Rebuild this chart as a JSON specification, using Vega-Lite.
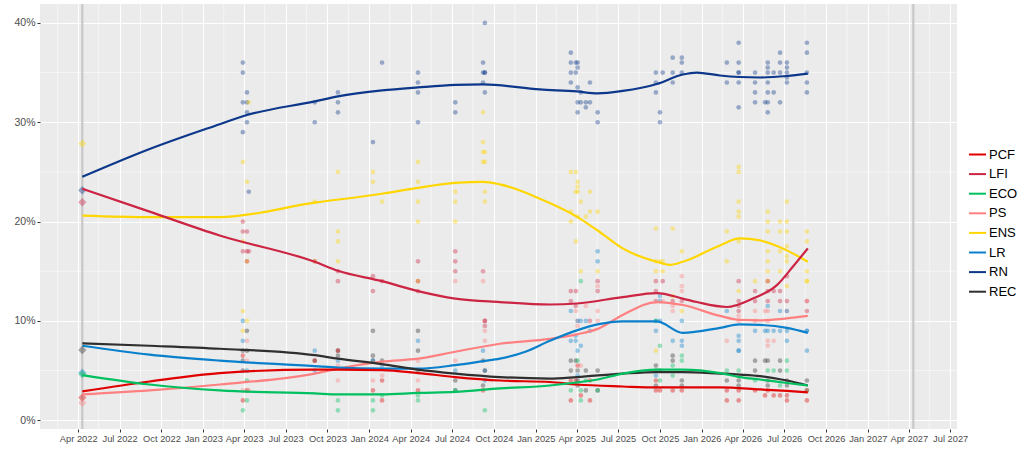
{
  "$schema": "https://vega.github.io/schema/vega-lite/v6.json",
  "width": 917,
  "height": 425,
  "autosize": {"type": "none"},
  "padding": {"left": 40, "top": 4, "right": 67, "bottom": 27},
  "config": {
    "font": "Liberation Sans",
    "view": {"fill": "#EBEBEB", "stroke": null},
    "axis": {
      "domain": false,
      "tickColor": "#333333",
      "tickSize": 3,
      "labelColor": "#4D4D4D",
      "labelFontSize": 10,
      "labelPadding": 2,
      "labelOverlap": false,
      "gridColor": "#FFFFFF",
      "gridWidth": 1.1
    }
  },
  "datasets": {
    "gridx": [
      {"d": "2022-02-15"}, {"d": "2022-05-16"}, {"d": "2022-08-16"}, {"d": "2022-11-16"},
      {"d": "2023-02-15"}, {"d": "2023-05-16"}, {"d": "2023-08-16"}, {"d": "2023-11-16"},
      {"d": "2024-02-15"}, {"d": "2024-05-16"}, {"d": "2024-08-16"}, {"d": "2024-11-16"},
      {"d": "2025-02-15"}, {"d": "2025-05-16"}, {"d": "2025-08-16"}, {"d": "2025-11-16"},
      {"d": "2026-02-15"}, {"d": "2026-05-16"}, {"d": "2026-08-16"}, {"d": "2026-11-16"},
      {"d": "2027-02-15"}, {"d": "2027-05-16"}
    ],
    "gridy": [{"v": 5}, {"v": 15}, {"v": 25}, {"v": 35}],
    "elections": [{"d": "2022-04-10"}, {"d": "2027-04-11"}],
    "results": [
      {"d": "2022-04-10", "p": "ENS", "v": 27.85},
      {"d": "2022-04-10", "p": "RN", "v": 23.15},
      {"d": "2022-04-10", "p": "LFI", "v": 21.95},
      {"d": "2022-04-10", "p": "REC", "v": 7.07},
      {"d": "2022-04-10", "p": "LR", "v": 4.78},
      {"d": "2022-04-10", "p": "ECO", "v": 4.63},
      {"d": "2022-04-10", "p": "PCF", "v": 2.28},
      {"d": "2022-04-10", "p": "PS", "v": 1.75}
    ],
    "polls": [
      {"d": "2023-03-29", "p": "RN", "v": 36}, {"d": "2023-03-29", "p": "RN", "v": 35}, {"d": "2023-03-29", "p": "RN", "v": 32}, {"d": "2023-03-29", "p": "RN", "v": 29},
      {"d": "2023-03-29", "p": "ENS", "v": 26}, {"d": "2023-03-29", "p": "ENS", "v": 18}, {"d": "2023-03-29", "p": "ENS", "v": 11}, {"d": "2023-03-29", "p": "ENS", "v": 9},
      {"d": "2023-03-29", "p": "LFI", "v": 20}, {"d": "2023-03-29", "p": "LFI", "v": 19}, {"d": "2023-03-29", "p": "LFI", "v": 17},
      {"d": "2023-03-29", "p": "LR", "v": 10}, {"d": "2023-03-29", "p": "LR", "v": 8},
      {"d": "2023-03-29", "p": "REC", "v": 7}, {"d": "2023-03-29", "p": "REC", "v": 6}, {"d": "2023-03-29", "p": "REC", "v": 5},
      {"d": "2023-03-29", "p": "PCF", "v": 6.5}, {"d": "2023-03-29", "p": "PCF", "v": 2},
      {"d": "2023-03-29", "p": "PS", "v": 3}, {"d": "2023-03-29", "p": "ECO", "v": 1},

      {"d": "2023-04-07", "p": "RN", "v": 33}, {"d": "2023-04-07", "p": "RN", "v": 32}, {"d": "2023-04-07", "p": "RN", "v": 31}, {"d": "2023-04-07", "p": "RN", "v": 30},
      {"d": "2023-04-07", "p": "ENS", "v": 24}, {"d": "2023-04-07", "p": "ENS", "v": 16}, {"d": "2023-04-07", "p": "ENS", "v": 10},
      {"d": "2023-04-07", "p": "LFI", "v": 19}, {"d": "2023-04-07", "p": "LFI", "v": 17}, {"d": "2023-04-07", "p": "LFI", "v": 16},
      {"d": "2023-04-07", "p": "REC", "v": 9}, {"d": "2023-04-07", "p": "REC", "v": 7},
      {"d": "2023-04-07", "p": "PS", "v": 8}, {"d": "2023-04-07", "p": "PS", "v": 6},
      {"d": "2023-04-07", "p": "LR", "v": 5}, {"d": "2023-04-07", "p": "ECO", "v": 4}, {"d": "2023-04-07", "p": "ECO", "v": 2}, {"d": "2023-04-07", "p": "PCF", "v": 3},

      {"d": "2023-04-11", "p": "ENS", "v": 32}, {"d": "2023-04-11", "p": "RN", "v": 23}, {"d": "2023-04-11", "p": "LFI", "v": 17}, {"d": "2023-04-11", "p": "PS", "v": 3},

      {"d": "2023-09-03", "p": "RN", "v": 32}, {"d": "2023-09-03", "p": "RN", "v": 30},
      {"d": "2023-09-03", "p": "ENS", "v": 22}, {"d": "2023-09-03", "p": "ENS", "v": 16},
      {"d": "2023-09-03", "p": "LFI", "v": 16}, {"d": "2023-09-03", "p": "LR", "v": 7}, {"d": "2023-09-03", "p": "LR", "v": 5},
      {"d": "2023-09-03", "p": "REC", "v": 6}, {"d": "2023-09-03", "p": "PCF", "v": 6},

      {"d": "2023-10-24", "p": "RN", "v": 33}, {"d": "2023-10-24", "p": "RN", "v": 32}, {"d": "2023-10-24", "p": "RN", "v": 31},
      {"d": "2023-10-24", "p": "ENS", "v": 25}, {"d": "2023-10-24", "p": "ENS", "v": 19}, {"d": "2023-10-24", "p": "ENS", "v": 18}, {"d": "2023-10-24", "p": "ENS", "v": 16},
      {"d": "2023-10-24", "p": "LFI", "v": 15}, {"d": "2023-10-24", "p": "LFI", "v": 14},
      {"d": "2023-10-24", "p": "REC", "v": 7}, {"d": "2023-10-24", "p": "REC", "v": 6.5}, {"d": "2023-10-24", "p": "PCF", "v": 7},
      {"d": "2023-10-24", "p": "LR", "v": 6}, {"d": "2023-10-24", "p": "PS", "v": 5.5}, {"d": "2023-10-24", "p": "PS", "v": 4},
      {"d": "2023-10-24", "p": "ECO", "v": 2}, {"d": "2023-10-24", "p": "ECO", "v": 1},

      {"d": "2024-01-09", "p": "RN", "v": 28}, {"d": "2024-01-09", "p": "ENS", "v": 25}, {"d": "2024-01-09", "p": "ENS", "v": 24},
      {"d": "2024-01-09", "p": "LFI", "v": 14.5}, {"d": "2024-01-09", "p": "LFI", "v": 13},
      {"d": "2024-01-09", "p": "REC", "v": 9}, {"d": "2024-01-09", "p": "REC", "v": 6.5}, {"d": "2024-01-09", "p": "REC", "v": 6},
      {"d": "2024-01-09", "p": "LR", "v": 6}, {"d": "2024-01-09", "p": "PS", "v": 4}, {"d": "2024-01-09", "p": "PCF", "v": 3},
      {"d": "2024-01-09", "p": "ECO", "v": 2}, {"d": "2024-01-09", "p": "ECO", "v": 1},

      {"d": "2024-01-29", "p": "RN", "v": 36}, {"d": "2024-01-29", "p": "ENS", "v": 22}, {"d": "2024-01-29", "p": "LFI", "v": 14},
      {"d": "2024-01-29", "p": "REC", "v": 6}, {"d": "2024-01-29", "p": "LR", "v": 5.5}, {"d": "2024-01-29", "p": "PS", "v": 4.5},
      {"d": "2024-01-29", "p": "PCF", "v": 4}, {"d": "2024-01-29", "p": "PCF", "v": 2}, {"d": "2024-01-29", "p": "ECO", "v": 2.5},

      {"d": "2024-04-17", "p": "RN", "v": 35}, {"d": "2024-04-17", "p": "RN", "v": 34}, {"d": "2024-04-17", "p": "RN", "v": 33}, {"d": "2024-04-17", "p": "RN", "v": 30},
      {"d": "2024-04-17", "p": "ENS", "v": 26}, {"d": "2024-04-17", "p": "ENS", "v": 24}, {"d": "2024-04-17", "p": "ENS", "v": 22}, {"d": "2024-04-17", "p": "ENS", "v": 20}, {"d": "2024-04-17", "p": "ENS", "v": 14},
      {"d": "2024-04-17", "p": "LFI", "v": 16}, {"d": "2024-04-17", "p": "LFI", "v": 14}, {"d": "2024-04-17", "p": "LFI", "v": 13},
      {"d": "2024-04-17", "p": "REC", "v": 9}, {"d": "2024-04-17", "p": "REC", "v": 7}, {"d": "2024-04-17", "p": "REC", "v": 5},
      {"d": "2024-04-17", "p": "LR", "v": 8}, {"d": "2024-04-17", "p": "PS", "v": 6}, {"d": "2024-04-17", "p": "PS", "v": 4},
      {"d": "2024-04-17", "p": "PCF", "v": 3}, {"d": "2024-04-17", "p": "ECO", "v": 2.5}, {"d": "2024-04-17", "p": "ECO", "v": 2},

      {"d": "2024-07-08", "p": "RN", "v": 32}, {"d": "2024-07-08", "p": "RN", "v": 31},
      {"d": "2024-07-08", "p": "ENS", "v": 23}, {"d": "2024-07-08", "p": "ENS", "v": 22}, {"d": "2024-07-08", "p": "ENS", "v": 20},
      {"d": "2024-07-08", "p": "LFI", "v": 17}, {"d": "2024-07-08", "p": "LFI", "v": 16}, {"d": "2024-07-08", "p": "LFI", "v": 15},
      {"d": "2024-07-08", "p": "PS", "v": 14}, {"d": "2024-07-08", "p": "PS", "v": 6}, {"d": "2024-07-08", "p": "LR", "v": 5},
      {"d": "2024-07-08", "p": "REC", "v": 4}, {"d": "2024-07-08", "p": "REC", "v": 3}, {"d": "2024-07-08", "p": "ECO", "v": 3},

      {"d": "2024-09-07", "p": "RN", "v": 36}, {"d": "2024-09-07", "p": "RN", "v": 35}, {"d": "2024-09-07", "p": "RN", "v": 34},
      {"d": "2024-09-07", "p": "ENS", "v": 31}, {"d": "2024-09-07", "p": "ENS", "v": 28}, {"d": "2024-09-07", "p": "ENS", "v": 27}, {"d": "2024-09-07", "p": "ENS", "v": 26},
      {"d": "2024-09-07", "p": "LFI", "v": 15}, {"d": "2024-09-07", "p": "PS", "v": 14}, {"d": "2024-09-07", "p": "LR", "v": 7},
      {"d": "2024-09-07", "p": "REC", "v": 6}, {"d": "2024-09-07", "p": "REC", "v": 3.5}, {"d": "2024-09-07", "p": "PCF", "v": 3},

      {"d": "2024-09-11", "p": "RN", "v": 40}, {"d": "2024-09-11", "p": "RN", "v": 35}, {"d": "2024-09-11", "p": "RN", "v": 35}, {"d": "2024-09-11", "p": "RN", "v": 33},
      {"d": "2024-09-11", "p": "ENS", "v": 27}, {"d": "2024-09-11", "p": "ENS", "v": 26}, {"d": "2024-09-11", "p": "ENS", "v": 23}, {"d": "2024-09-11", "p": "ENS", "v": 22},
      {"d": "2024-09-11", "p": "LFI", "v": 10}, {"d": "2024-09-11", "p": "LFI", "v": 10}, {"d": "2024-09-11", "p": "LFI", "v": 9.5},
      {"d": "2024-09-11", "p": "PS", "v": 9}, {"d": "2024-09-11", "p": "PS", "v": 8},
      {"d": "2024-09-11", "p": "LR", "v": 5}, {"d": "2024-09-11", "p": "LR", "v": 4}, {"d": "2024-09-11", "p": "REC", "v": 5}, {"d": "2024-09-11", "p": "ECO", "v": 1},

      {"d": "2025-03-19", "p": "RN", "v": 37}, {"d": "2025-03-19", "p": "RN", "v": 36}, {"d": "2025-03-19", "p": "RN", "v": 35}, {"d": "2025-03-19", "p": "RN", "v": 34},
      {"d": "2025-03-19", "p": "ENS", "v": 25}, {"d": "2025-03-19", "p": "ENS", "v": 21}, {"d": "2025-03-19", "p": "ENS", "v": 20},
      {"d": "2025-03-19", "p": "LFI", "v": 13}, {"d": "2025-03-19", "p": "LFI", "v": 12},
      {"d": "2025-03-19", "p": "LR", "v": 11}, {"d": "2025-03-19", "p": "LR", "v": 8},
      {"d": "2025-03-19", "p": "REC", "v": 6}, {"d": "2025-03-19", "p": "REC", "v": 5},
      {"d": "2025-03-19", "p": "PCF", "v": 4}, {"d": "2025-03-19", "p": "PCF", "v": 2}, {"d": "2025-03-19", "p": "ECO", "v": 3},

      {"d": "2025-03-30", "p": "RN", "v": 36}, {"d": "2025-03-30", "p": "RN", "v": 35},
      {"d": "2025-03-30", "p": "ENS", "v": 25}, {"d": "2025-03-30", "p": "ENS", "v": 23}, {"d": "2025-03-30", "p": "ENS", "v": 18},
      {"d": "2025-03-30", "p": "LFI", "v": 13}, {"d": "2025-03-30", "p": "LFI", "v": 11.5}, {"d": "2025-03-30", "p": "PS", "v": 11},
      {"d": "2025-03-30", "p": "LR", "v": 8.5}, {"d": "2025-03-30", "p": "LR", "v": 8}, {"d": "2025-03-30", "p": "REC", "v": 6}, {"d": "2025-03-30", "p": "PCF", "v": 4},

      {"d": "2025-04-03", "p": "RN", "v": 36}, {"d": "2025-04-03", "p": "RN", "v": 35.5}, {"d": "2025-04-03", "p": "RN", "v": 33.5}, {"d": "2025-04-03", "p": "RN", "v": 32}, {"d": "2025-04-03", "p": "RN", "v": 31},
      {"d": "2025-04-03", "p": "ENS", "v": 24}, {"d": "2025-04-03", "p": "ENS", "v": 23.5}, {"d": "2025-04-03", "p": "ENS", "v": 23}, {"d": "2025-04-03", "p": "ENS", "v": 20.5},
      {"d": "2025-04-03", "p": "PS", "v": 10}, {"d": "2025-04-03", "p": "PS", "v": 9.5},
      {"d": "2025-04-03", "p": "LR", "v": 10}, {"d": "2025-04-03", "p": "LR", "v": 7}, {"d": "2025-04-03", "p": "LR", "v": 4.5},
      {"d": "2025-04-03", "p": "ECO", "v": 6}, {"d": "2025-04-03", "p": "PCF", "v": 5.5},
      {"d": "2025-04-03", "p": "REC", "v": 5}, {"d": "2025-04-03", "p": "REC", "v": 4}, {"d": "2025-04-03", "p": "REC", "v": 3.5},

      {"d": "2025-04-10", "p": "RN", "v": 33}, {"d": "2025-04-10", "p": "RN", "v": 32},
      {"d": "2025-04-10", "p": "ENS", "v": 22}, {"d": "2025-04-10", "p": "ENS", "v": 15},
      {"d": "2025-04-10", "p": "LR", "v": 10}, {"d": "2025-04-10", "p": "LR", "v": 7.5}, {"d": "2025-04-10", "p": "PS", "v": 5.5},
      {"d": "2025-04-10", "p": "ECO", "v": 14}, {"d": "2025-04-10", "p": "ECO", "v": 3}, {"d": "2025-04-10", "p": "ECO", "v": 2}, {"d": "2025-04-10", "p": "PCF", "v": 2.5},

      {"d": "2025-04-21", "p": "RN", "v": 32}, {"d": "2025-04-21", "p": "RN", "v": 31.5}, {"d": "2025-04-21", "p": "ENS", "v": 20.5},
      {"d": "2025-04-21", "p": "PS", "v": 11.5}, {"d": "2025-04-21", "p": "LR", "v": 10},
      {"d": "2025-04-21", "p": "REC", "v": 5}, {"d": "2025-04-21", "p": "REC", "v": 3}, {"d": "2025-04-21", "p": "ECO", "v": 4},

      {"d": "2025-04-30", "p": "RN", "v": 34}, {"d": "2025-04-30", "p": "RN", "v": 32},
      {"d": "2025-04-30", "p": "ENS", "v": 23}, {"d": "2025-04-30", "p": "ENS", "v": 21},
      {"d": "2025-04-30", "p": "LFI", "v": 10}, {"d": "2025-04-30", "p": "LR", "v": 9},
      {"d": "2025-04-30", "p": "PCF", "v": 4}, {"d": "2025-04-30", "p": "PCF", "v": 2},

      {"d": "2025-05-17", "p": "RN", "v": 31}, {"d": "2025-05-17", "p": "RN", "v": 30},
      {"d": "2025-05-17", "p": "ENS", "v": 21}, {"d": "2025-05-17", "p": "ENS", "v": 15},
      {"d": "2025-05-17", "p": "LR", "v": 17}, {"d": "2025-05-17", "p": "LR", "v": 16},
      {"d": "2025-05-17", "p": "LFI", "v": 14}, {"d": "2025-05-17", "p": "LFI", "v": 13},
      {"d": "2025-05-17", "p": "PS", "v": 13.5}, {"d": "2025-05-17", "p": "PS", "v": 11}, {"d": "2025-05-17", "p": "PS", "v": 10},
      {"d": "2025-05-17", "p": "REC", "v": 5}, {"d": "2025-05-17", "p": "REC", "v": 3}, {"d": "2025-05-17", "p": "ECO", "v": 3},

      {"d": "2025-09-22", "p": "RN", "v": 35}, {"d": "2025-09-22", "p": "RN", "v": 34}, {"d": "2025-09-22", "p": "RN", "v": 33},
      {"d": "2025-09-22", "p": "ENS", "v": 19.3}, {"d": "2025-09-22", "p": "ENS", "v": 16}, {"d": "2025-09-22", "p": "ENS", "v": 15}, {"d": "2025-09-22", "p": "ENS", "v": 7},
      {"d": "2025-09-22", "p": "LFI", "v": 14}, {"d": "2025-09-22", "p": "LFI", "v": 13}, {"d": "2025-09-22", "p": "LFI", "v": 12},
      {"d": "2025-09-22", "p": "LR", "v": 10}, {"d": "2025-09-22", "p": "LR", "v": 9}, {"d": "2025-09-22", "p": "LR", "v": 4.5},
      {"d": "2025-09-22", "p": "ECO", "v": 10},
      {"d": "2025-09-22", "p": "REC", "v": 5.5}, {"d": "2025-09-22", "p": "REC", "v": 5}, {"d": "2025-09-22", "p": "REC", "v": 3.5},
      {"d": "2025-09-22", "p": "PCF", "v": 4}, {"d": "2025-09-22", "p": "PCF", "v": 3},

      {"d": "2025-10-01", "p": "RN", "v": 31}, {"d": "2025-10-01", "p": "RN", "v": 30}, {"d": "2025-10-01", "p": "ENS", "v": 16},
      {"d": "2025-10-01", "p": "LR", "v": 12.5}, {"d": "2025-10-01", "p": "LR", "v": 12}, {"d": "2025-10-01", "p": "LR", "v": 10},
      {"d": "2025-10-01", "p": "ECO", "v": 7.5}, {"d": "2025-10-01", "p": "ECO", "v": 4}, {"d": "2025-10-01", "p": "REC", "v": 5}, {"d": "2025-10-01", "p": "PCF", "v": 3},

      {"d": "2025-10-07", "p": "RN", "v": 35}, {"d": "2025-10-07", "p": "ENS", "v": 16}, {"d": "2025-10-07", "p": "ENS", "v": 15},
      {"d": "2025-10-07", "p": "LFI", "v": 14}, {"d": "2025-10-07", "p": "PS", "v": 12},

      {"d": "2025-10-29", "p": "RN", "v": 36.5}, {"d": "2025-10-29", "p": "RN", "v": 35}, {"d": "2025-10-29", "p": "RN", "v": 34},
      {"d": "2025-10-29", "p": "ENS", "v": 19.3}, {"d": "2025-10-29", "p": "ENS", "v": 12.5}, {"d": "2025-10-29", "p": "LFI", "v": 12},
      {"d": "2025-10-29", "p": "PS", "v": 11.5}, {"d": "2025-10-29", "p": "PS", "v": 11}, {"d": "2025-10-29", "p": "LR", "v": 8},
      {"d": "2025-10-29", "p": "REC", "v": 6.5}, {"d": "2025-10-29", "p": "REC", "v": 6},
      {"d": "2025-10-29", "p": "ECO", "v": 5.5}, {"d": "2025-10-29", "p": "ECO", "v": 4.5}, {"d": "2025-10-29", "p": "PCF", "v": 3},

      {"d": "2025-11-18", "p": "RN", "v": 36.5}, {"d": "2025-11-18", "p": "RN", "v": 36}, {"d": "2025-11-18", "p": "RN", "v": 35},
      {"d": "2025-11-18", "p": "ENS", "v": 17}, {"d": "2025-11-18", "p": "ENS", "v": 11},
      {"d": "2025-11-18", "p": "PS", "v": 14.5}, {"d": "2025-11-18", "p": "PS", "v": 13.5}, {"d": "2025-11-18", "p": "PS", "v": 13},
      {"d": "2025-11-18", "p": "LFI", "v": 12},
      {"d": "2025-11-18", "p": "LR", "v": 10}, {"d": "2025-11-18", "p": "LR", "v": 8}, {"d": "2025-11-18", "p": "LR", "v": 7.5},
      {"d": "2025-11-18", "p": "ECO", "v": 6.5}, {"d": "2025-11-18", "p": "ECO", "v": 6},
      {"d": "2025-11-18", "p": "REC", "v": 4}, {"d": "2025-11-18", "p": "REC", "v": 3.5}, {"d": "2025-11-18", "p": "PCF", "v": 3},

      {"d": "2026-02-25", "p": "RN", "v": 36}, {"d": "2026-02-25", "p": "RN", "v": 34},
      {"d": "2026-02-25", "p": "ENS", "v": 19}, {"d": "2026-02-25", "p": "ENS", "v": 16},
      {"d": "2026-02-25", "p": "LR", "v": 11}, {"d": "2026-02-25", "p": "PS", "v": 8}, {"d": "2026-02-25", "p": "ECO", "v": 5},
      {"d": "2026-02-25", "p": "REC", "v": 4}, {"d": "2026-02-25", "p": "PCF", "v": 3}, {"d": "2026-02-25", "p": "PCF", "v": 2},

      {"d": "2026-03-23", "p": "RN", "v": 38}, {"d": "2026-03-23", "p": "RN", "v": 36}, {"d": "2026-03-23", "p": "RN", "v": 35}, {"d": "2026-03-23", "p": "RN", "v": 35}, {"d": "2026-03-23", "p": "RN", "v": 34}, {"d": "2026-03-23", "p": "RN", "v": 31.5},
      {"d": "2026-03-23", "p": "ENS", "v": 25.5}, {"d": "2026-03-23", "p": "ENS", "v": 25}, {"d": "2026-03-23", "p": "ENS", "v": 22}, {"d": "2026-03-23", "p": "ENS", "v": 21}, {"d": "2026-03-23", "p": "ENS", "v": 20.5}, {"d": "2026-03-23", "p": "ENS", "v": 18}, {"d": "2026-03-23", "p": "ENS", "v": 13},
      {"d": "2026-03-23", "p": "LFI", "v": 14}, {"d": "2026-03-23", "p": "LFI", "v": 12}, {"d": "2026-03-23", "p": "LFI", "v": 11.5}, {"d": "2026-03-23", "p": "LFI", "v": 11},
      {"d": "2026-03-23", "p": "PS", "v": 10.5}, {"d": "2026-03-23", "p": "PS", "v": 10},
      {"d": "2026-03-23", "p": "LR", "v": 8.5}, {"d": "2026-03-23", "p": "LR", "v": 8}, {"d": "2026-03-23", "p": "LR", "v": 7}, {"d": "2026-03-23", "p": "LR", "v": 7},
      {"d": "2026-03-23", "p": "ECO", "v": 5}, {"d": "2026-03-23", "p": "REC", "v": 4}, {"d": "2026-03-23", "p": "REC", "v": 3.5},
      {"d": "2026-03-23", "p": "PCF", "v": 3}, {"d": "2026-03-23", "p": "PCF", "v": 2},

      {"d": "2026-04-28", "p": "RN", "v": 35}, {"d": "2026-04-28", "p": "RN", "v": 34}, {"d": "2026-04-28", "p": "RN", "v": 33}, {"d": "2026-04-28", "p": "RN", "v": 32},
      {"d": "2026-04-28", "p": "ENS", "v": 14}, {"d": "2026-04-28", "p": "LFI", "v": 13}, {"d": "2026-04-28", "p": "LFI", "v": 12},
      {"d": "2026-04-28", "p": "PS", "v": 11}, {"d": "2026-04-28", "p": "PS", "v": 10}, {"d": "2026-04-28", "p": "LR", "v": 9},
      {"d": "2026-04-28", "p": "REC", "v": 6}, {"d": "2026-04-28", "p": "REC", "v": 5}, {"d": "2026-04-28", "p": "ECO", "v": 4}, {"d": "2026-04-28", "p": "PCF", "v": 3},

      {"d": "2026-05-20", "p": "RN", "v": 32}, {"d": "2026-05-20", "p": "PS", "v": 11}, {"d": "2026-05-20", "p": "LR", "v": 9},
      {"d": "2026-05-20", "p": "REC", "v": 6}, {"d": "2026-05-20", "p": "PCF", "v": 2.5},

      {"d": "2026-05-26", "p": "RN", "v": 36}, {"d": "2026-05-26", "p": "RN", "v": 35.5}, {"d": "2026-05-26", "p": "RN", "v": 35}, {"d": "2026-05-26", "p": "RN", "v": 34}, {"d": "2026-05-26", "p": "RN", "v": 33}, {"d": "2026-05-26", "p": "RN", "v": 32}, {"d": "2026-05-26", "p": "RN", "v": 31},
      {"d": "2026-05-26", "p": "ENS", "v": 21}, {"d": "2026-05-26", "p": "ENS", "v": 20}, {"d": "2026-05-26", "p": "ENS", "v": 19}, {"d": "2026-05-26", "p": "ENS", "v": 17}, {"d": "2026-05-26", "p": "ENS", "v": 16}, {"d": "2026-05-26", "p": "ENS", "v": 15}, {"d": "2026-05-26", "p": "ENS", "v": 14},
      {"d": "2026-05-26", "p": "LFI", "v": 14}, {"d": "2026-05-26", "p": "LFI", "v": 13}, {"d": "2026-05-26", "p": "LFI", "v": 12},
      {"d": "2026-05-26", "p": "LR", "v": 11.5}, {"d": "2026-05-26", "p": "LR", "v": 9},
      {"d": "2026-05-26", "p": "PS", "v": 11}, {"d": "2026-05-26", "p": "PS", "v": 10}, {"d": "2026-05-26", "p": "PS", "v": 8}, {"d": "2026-05-26", "p": "PS", "v": 7.5},
      {"d": "2026-05-26", "p": "REC", "v": 6}, {"d": "2026-05-26", "p": "REC", "v": 4}, {"d": "2026-05-26", "p": "REC", "v": 3.5},
      {"d": "2026-05-26", "p": "ECO", "v": 5}, {"d": "2026-05-26", "p": "PCF", "v": 3},

      {"d": "2026-06-08", "p": "RN", "v": 35}, {"d": "2026-06-08", "p": "RN", "v": 33}, {"d": "2026-06-08", "p": "LFI", "v": 13},
      {"d": "2026-06-08", "p": "LR", "v": 9}, {"d": "2026-06-08", "p": "PS", "v": 8}, {"d": "2026-06-08", "p": "ECO", "v": 5}, {"d": "2026-06-08", "p": "PCF", "v": 2.5},

      {"d": "2026-06-22", "p": "RN", "v": 37}, {"d": "2026-06-22", "p": "RN", "v": 36}, {"d": "2026-06-22", "p": "RN", "v": 35}, {"d": "2026-06-22", "p": "RN", "v": 32},
      {"d": "2026-06-22", "p": "ENS", "v": 20}, {"d": "2026-06-22", "p": "ENS", "v": 19}, {"d": "2026-06-22", "p": "ENS", "v": 17}, {"d": "2026-06-22", "p": "ENS", "v": 15},
      {"d": "2026-06-22", "p": "LFI", "v": 13}, {"d": "2026-06-22", "p": "LFI", "v": 12},
      {"d": "2026-06-22", "p": "LR", "v": 11}, {"d": "2026-06-22", "p": "LR", "v": 9},
      {"d": "2026-06-22", "p": "REC", "v": 6}, {"d": "2026-06-22", "p": "REC", "v": 5}, {"d": "2026-06-22", "p": "ECO", "v": 3.5}, {"d": "2026-06-22", "p": "PCF", "v": 2.5},

      {"d": "2026-07-07", "p": "RN", "v": 36}, {"d": "2026-07-07", "p": "RN", "v": 35.5}, {"d": "2026-07-07", "p": "RN", "v": 35}, {"d": "2026-07-07", "p": "RN", "v": 34.5}, {"d": "2026-07-07", "p": "RN", "v": 34},
      {"d": "2026-07-07", "p": "ENS", "v": 22}, {"d": "2026-07-07", "p": "ENS", "v": 20}, {"d": "2026-07-07", "p": "ENS", "v": 19}, {"d": "2026-07-07", "p": "ENS", "v": 17.5}, {"d": "2026-07-07", "p": "ENS", "v": 16.5}, {"d": "2026-07-07", "p": "ENS", "v": 16}, {"d": "2026-07-07", "p": "ENS", "v": 13.5},
      {"d": "2026-07-07", "p": "LFI", "v": 14.5}, {"d": "2026-07-07", "p": "LFI", "v": 12}, {"d": "2026-07-07", "p": "PS", "v": 11},
      {"d": "2026-07-07", "p": "LR", "v": 11}, {"d": "2026-07-07", "p": "LR", "v": 9}, {"d": "2026-07-07", "p": "LR", "v": 8},
      {"d": "2026-07-07", "p": "ECO", "v": 6}, {"d": "2026-07-07", "p": "ECO", "v": 5},
      {"d": "2026-07-07", "p": "REC", "v": 4}, {"d": "2026-07-07", "p": "REC", "v": 3.5},
      {"d": "2026-07-07", "p": "PCF", "v": 2.5}, {"d": "2026-07-07", "p": "PCF", "v": 2},

      {"d": "2026-08-20", "p": "RN", "v": 38}, {"d": "2026-08-20", "p": "RN", "v": 37}, {"d": "2026-08-20", "p": "RN", "v": 35}, {"d": "2026-08-20", "p": "RN", "v": 34}, {"d": "2026-08-20", "p": "RN", "v": 33},
      {"d": "2026-08-20", "p": "ENS", "v": 19}, {"d": "2026-08-20", "p": "ENS", "v": 18}, {"d": "2026-08-20", "p": "ENS", "v": 15}, {"d": "2026-08-20", "p": "ENS", "v": 14}, {"d": "2026-08-20", "p": "ENS", "v": 14},
      {"d": "2026-08-20", "p": "LFI", "v": 12}, {"d": "2026-08-20", "p": "LFI", "v": 11}, {"d": "2026-08-20", "p": "PS", "v": 12},
      {"d": "2026-08-20", "p": "LR", "v": 9}, {"d": "2026-08-20", "p": "LR", "v": 9}, {"d": "2026-08-20", "p": "LR", "v": 7},
      {"d": "2026-08-20", "p": "REC", "v": 4}, {"d": "2026-08-20", "p": "ECO", "v": 3},
      {"d": "2026-08-20", "p": "PCF", "v": 3}, {"d": "2026-08-20", "p": "PCF", "v": 2}
    ],
    "trend": [
      {"d": "2022-04-10", "p": "RN", "v": 24.5}, {"d": "2022-09-05", "p": "RN", "v": 27.3}, {"d": "2023-02-06", "p": "RN", "v": 29.8}, {"d": "2023-03-29", "p": "RN", "v": 30.6},
      {"d": "2023-09-03", "p": "RN", "v": 32.1}, {"d": "2023-10-24", "p": "RN", "v": 32.6}, {"d": "2024-01-29", "p": "RN", "v": 33.2}, {"d": "2024-04-17", "p": "RN", "v": 33.5},
      {"d": "2024-07-08", "p": "RN", "v": 33.75}, {"d": "2024-09-07", "p": "RN", "v": 33.8}, {"d": "2025-01-10", "p": "RN", "v": 33.3}, {"d": "2025-04-01", "p": "RN", "v": 33.1},
      {"d": "2025-05-17", "p": "RN", "v": 32.9}, {"d": "2025-07-11", "p": "RN", "v": 33.15}, {"d": "2025-09-24", "p": "RN", "v": 33.85}, {"d": "2025-11-20", "p": "RN", "v": 34.8},
      {"d": "2025-12-21", "p": "RN", "v": 35.0}, {"d": "2026-02-10", "p": "RN", "v": 34.7}, {"d": "2026-03-25", "p": "RN", "v": 34.55}, {"d": "2026-05-09", "p": "RN", "v": 34.5},
      {"d": "2026-07-07", "p": "RN", "v": 34.65}, {"d": "2026-08-22", "p": "RN", "v": 34.9},

      {"d": "2022-04-10", "p": "ENS", "v": 20.6}, {"d": "2022-09-05", "p": "ENS", "v": 20.45}, {"d": "2023-02-06", "p": "ENS", "v": 20.45}, {"d": "2023-09-03", "p": "ENS", "v": 21.9},
      {"d": "2024-01-29", "p": "ENS", "v": 22.8}, {"d": "2024-04-17", "p": "ENS", "v": 23.4}, {"d": "2024-07-08", "p": "ENS", "v": 23.9}, {"d": "2024-09-07", "p": "ENS", "v": 24.0},
      {"d": "2024-10-14", "p": "ENS", "v": 23.75}, {"d": "2025-01-10", "p": "ENS", "v": 22.3}, {"d": "2025-04-01", "p": "ENS", "v": 20.5}, {"d": "2025-05-17", "p": "ENS", "v": 19.1},
      {"d": "2025-07-11", "p": "ENS", "v": 17.3}, {"d": "2025-09-24", "p": "ENS", "v": 15.95}, {"d": "2025-10-22", "p": "ENS", "v": 15.65}, {"d": "2025-11-20", "p": "ENS", "v": 15.95},
      {"d": "2026-02-10", "p": "ENS", "v": 17.6}, {"d": "2026-03-25", "p": "ENS", "v": 18.3}, {"d": "2026-05-09", "p": "ENS", "v": 18.1}, {"d": "2026-07-07", "p": "ENS", "v": 17.1},
      {"d": "2026-08-22", "p": "ENS", "v": 15.95},

      {"d": "2022-04-10", "p": "LFI", "v": 23.3}, {"d": "2022-09-05", "p": "LFI", "v": 21.0}, {"d": "2023-02-06", "p": "LFI", "v": 18.6}, {"d": "2023-09-03", "p": "LFI", "v": 15.95},
      {"d": "2023-10-24", "p": "LFI", "v": 15.05}, {"d": "2024-01-29", "p": "LFI", "v": 14.0}, {"d": "2024-04-17", "p": "LFI", "v": 13.0}, {"d": "2024-07-08", "p": "LFI", "v": 12.25},
      {"d": "2024-10-14", "p": "LFI", "v": 11.9}, {"d": "2025-02-01", "p": "LFI", "v": 11.65}, {"d": "2025-04-01", "p": "LFI", "v": 11.75}, {"d": "2025-07-11", "p": "LFI", "v": 12.4},
      {"d": "2025-09-24", "p": "LFI", "v": 12.8}, {"d": "2025-11-20", "p": "LFI", "v": 12.25}, {"d": "2025-12-21", "p": "LFI", "v": 11.9}, {"d": "2026-02-25", "p": "LFI", "v": 11.4},
      {"d": "2026-04-23", "p": "LFI", "v": 12.25}, {"d": "2026-06-15", "p": "LFI", "v": 13.6}, {"d": "2026-07-20", "p": "LFI", "v": 15.45}, {"d": "2026-08-22", "p": "LFI", "v": 17.3},

      {"d": "2022-04-10", "p": "PS", "v": 2.6}, {"d": "2022-09-05", "p": "PS", "v": 3.0}, {"d": "2023-02-06", "p": "PS", "v": 3.6}, {"d": "2023-09-03", "p": "PS", "v": 4.7},
      {"d": "2023-10-24", "p": "PS", "v": 5.2}, {"d": "2024-01-29", "p": "PS", "v": 5.9}, {"d": "2024-04-17", "p": "PS", "v": 6.2}, {"d": "2024-07-08", "p": "PS", "v": 6.9},
      {"d": "2024-10-14", "p": "PS", "v": 7.7}, {"d": "2025-02-01", "p": "PS", "v": 8.2}, {"d": "2025-04-01", "p": "PS", "v": 8.65}, {"d": "2025-05-17", "p": "PS", "v": 9.2},
      {"d": "2025-07-11", "p": "PS", "v": 10.6}, {"d": "2025-09-24", "p": "PS", "v": 11.9}, {"d": "2025-11-20", "p": "PS", "v": 11.6}, {"d": "2026-02-10", "p": "PS", "v": 10.5},
      {"d": "2026-03-25", "p": "PS", "v": 10.1}, {"d": "2026-05-09", "p": "PS", "v": 10.05}, {"d": "2026-07-07", "p": "PS", "v": 10.25}, {"d": "2026-08-22", "p": "PS", "v": 10.5},

      {"d": "2022-04-10", "p": "LR", "v": 7.5}, {"d": "2022-09-05", "p": "LR", "v": 6.6}, {"d": "2023-02-06", "p": "LR", "v": 6.0}, {"d": "2023-09-03", "p": "LR", "v": 5.45},
      {"d": "2023-10-24", "p": "LR", "v": 5.3}, {"d": "2024-01-29", "p": "LR", "v": 5.2}, {"d": "2024-04-17", "p": "LR", "v": 5.2}, {"d": "2024-07-08", "p": "LR", "v": 5.55},
      {"d": "2024-09-07", "p": "LR", "v": 5.95}, {"d": "2024-10-14", "p": "LR", "v": 6.2}, {"d": "2024-12-09", "p": "LR", "v": 6.9}, {"d": "2025-02-01", "p": "LR", "v": 8.0},
      {"d": "2025-04-01", "p": "LR", "v": 9.05}, {"d": "2025-05-17", "p": "LR", "v": 9.65}, {"d": "2025-07-11", "p": "LR", "v": 9.95}, {"d": "2025-09-24", "p": "LR", "v": 9.95},
      {"d": "2025-11-20", "p": "LR", "v": 8.8}, {"d": "2026-02-10", "p": "LR", "v": 9.3}, {"d": "2026-03-25", "p": "LR", "v": 9.65}, {"d": "2026-05-09", "p": "LR", "v": 9.6},
      {"d": "2026-07-07", "p": "LR", "v": 9.3}, {"d": "2026-08-22", "p": "LR", "v": 8.8},

      {"d": "2022-04-10", "p": "REC", "v": 7.75}, {"d": "2022-09-05", "p": "REC", "v": 7.5}, {"d": "2023-02-06", "p": "REC", "v": 7.2}, {"d": "2023-09-03", "p": "REC", "v": 6.55},
      {"d": "2023-10-24", "p": "REC", "v": 6.2}, {"d": "2024-01-29", "p": "REC", "v": 5.65}, {"d": "2024-04-17", "p": "REC", "v": 5.1}, {"d": "2024-07-08", "p": "REC", "v": 4.7},
      {"d": "2024-10-14", "p": "REC", "v": 4.35}, {"d": "2025-02-01", "p": "REC", "v": 4.2}, {"d": "2025-04-01", "p": "REC", "v": 4.35}, {"d": "2025-07-11", "p": "REC", "v": 4.7},
      {"d": "2025-09-24", "p": "REC", "v": 4.85}, {"d": "2025-11-20", "p": "REC", "v": 4.85}, {"d": "2026-02-10", "p": "REC", "v": 4.7}, {"d": "2026-03-25", "p": "REC", "v": 4.6},
      {"d": "2026-05-09", "p": "REC", "v": 4.45}, {"d": "2026-07-07", "p": "REC", "v": 4.0}, {"d": "2026-08-22", "p": "REC", "v": 3.5},

      {"d": "2022-04-10", "p": "PCF", "v": 2.9}, {"d": "2022-09-05", "p": "PCF", "v": 3.9}, {"d": "2023-02-06", "p": "PCF", "v": 4.75}, {"d": "2023-09-03", "p": "PCF", "v": 5.1},
      {"d": "2023-10-24", "p": "PCF", "v": 5.1}, {"d": "2024-01-29", "p": "PCF", "v": 5.05}, {"d": "2024-04-17", "p": "PCF", "v": 4.75}, {"d": "2024-07-08", "p": "PCF", "v": 4.35},
      {"d": "2024-10-14", "p": "PCF", "v": 4.0}, {"d": "2025-02-01", "p": "PCF", "v": 3.85}, {"d": "2025-04-01", "p": "PCF", "v": 3.6}, {"d": "2025-07-11", "p": "PCF", "v": 3.4},
      {"d": "2025-09-24", "p": "PCF", "v": 3.3}, {"d": "2026-02-10", "p": "PCF", "v": 3.3}, {"d": "2026-05-09", "p": "PCF", "v": 3.1}, {"d": "2026-07-07", "p": "PCF", "v": 2.95},
      {"d": "2026-08-22", "p": "PCF", "v": 2.8},

      {"d": "2022-04-10", "p": "ECO", "v": 4.55}, {"d": "2022-09-05", "p": "ECO", "v": 3.6}, {"d": "2023-02-06", "p": "ECO", "v": 3.0}, {"d": "2023-09-03", "p": "ECO", "v": 2.7},
      {"d": "2023-10-24", "p": "ECO", "v": 2.6}, {"d": "2024-01-29", "p": "ECO", "v": 2.6}, {"d": "2024-04-17", "p": "ECO", "v": 2.75}, {"d": "2024-07-08", "p": "ECO", "v": 2.85},
      {"d": "2024-10-14", "p": "ECO", "v": 3.2}, {"d": "2025-02-01", "p": "ECO", "v": 3.5}, {"d": "2025-04-01", "p": "ECO", "v": 3.8}, {"d": "2025-05-17", "p": "ECO", "v": 4.1},
      {"d": "2025-07-11", "p": "ECO", "v": 4.7}, {"d": "2025-09-24", "p": "ECO", "v": 5.1}, {"d": "2025-11-20", "p": "ECO", "v": 5.1}, {"d": "2026-02-10", "p": "ECO", "v": 4.75},
      {"d": "2026-03-25", "p": "ECO", "v": 4.35}, {"d": "2026-05-09", "p": "ECO", "v": 4.1}, {"d": "2026-07-07", "p": "ECO", "v": 3.75}, {"d": "2026-08-22", "p": "ECO", "v": 3.5}
    ]
  },
  "layer": [
    {
      "data": {"name": "gridx"},
      "mark": {"type": "rule", "color": "#FFFFFF", "strokeWidth": 0.55},
      "encoding": {"x": {"field": "d", "type": "temporal", "title": null}}
    },
    {
      "data": {"name": "gridy"},
      "mark": {"type": "rule", "color": "#FFFFFF", "strokeWidth": 0.55},
      "encoding": {"y": {"field": "v", "type": "quantitative", "title": null}}
    },
    {
      "data": {"name": "elections"},
      "mark": {"type": "rule", "color": "#C8C8C8", "strokeWidth": 2.2},
      "encoding": {"x": {"field": "d", "type": "temporal", "title": null}}
    },
    {
      "data": {"name": "polls"},
      "mark": {"type": "circle", "size": 22, "opacity": 0.38},
      "encoding": {
        "x": {"field": "d", "type": "temporal", "title": null},
        "y": {"field": "v", "type": "quantitative", "title": null},
        "color": {"field": "p", "type": "nominal"}
      }
    },
    {
      "data": {"name": "results"},
      "mark": {"type": "point", "shape": "diamond", "filled": true, "size": 70, "opacity": 0.4},
      "encoding": {
        "x": {"field": "d", "type": "temporal", "title": null},
        "y": {"field": "v", "type": "quantitative", "title": null},
        "color": {"field": "p", "type": "nominal"}
      }
    },
    {
      "data": {"name": "trend"},
      "mark": {"type": "line", "interpolate": "monotone", "strokeWidth": 2.2},
      "encoding": {
        "x": {
          "field": "d",
          "type": "temporal",
          "title": null,
          "scale": {
            "type": "utc",
            "domain": [{"year": 2022, "month": 1, "date": 7, "utc": true}, {"year": 2027, "month": 7, "date": 16, "utc": true}]
          },
          "axis": {
            "labelExpr": "utcFormat(datum.value, '%b %Y')",
            "labelOverlap": false,
            "labelFontSize": 9.3,
            "values": [
              {"year": 2022, "month": 4, "date": 1, "utc": true}, {"year": 2022, "month": 7, "date": 1, "utc": true}, {"year": 2022, "month": 10, "date": 1, "utc": true},
              {"year": 2023, "month": 1, "date": 1, "utc": true}, {"year": 2023, "month": 4, "date": 1, "utc": true}, {"year": 2023, "month": 7, "date": 1, "utc": true}, {"year": 2023, "month": 10, "date": 1, "utc": true},
              {"year": 2024, "month": 1, "date": 1, "utc": true}, {"year": 2024, "month": 4, "date": 1, "utc": true}, {"year": 2024, "month": 7, "date": 1, "utc": true}, {"year": 2024, "month": 10, "date": 1, "utc": true},
              {"year": 2025, "month": 1, "date": 1, "utc": true}, {"year": 2025, "month": 4, "date": 1, "utc": true}, {"year": 2025, "month": 7, "date": 1, "utc": true}, {"year": 2025, "month": 10, "date": 1, "utc": true},
              {"year": 2026, "month": 1, "date": 1, "utc": true}, {"year": 2026, "month": 4, "date": 1, "utc": true}, {"year": 2026, "month": 7, "date": 1, "utc": true}, {"year": 2026, "month": 10, "date": 1, "utc": true},
              {"year": 2027, "month": 1, "date": 1, "utc": true}, {"year": 2027, "month": 4, "date": 1, "utc": true}, {"year": 2027, "month": 7, "date": 1, "utc": true}
            ]
          }
        },
        "y": {
          "field": "v",
          "type": "quantitative",
          "title": null,
          "scale": {"domain": [-0.88, 41.9], "nice": false, "zero": false},
          "axis": {"values": [0, 10, 20, 30, 40], "labelExpr": "datum.value + '%'", "labelFontSize": 10.5}
        },
        "color": {
          "field": "p",
          "type": "nominal",
          "scale": {
            "domain": ["PCF", "LFI", "ECO", "PS", "ENS", "LR", "RN", "REC"],
            "range": ["#E00000", "#CC2443", "#00C060", "#FF8080", "#FFD600", "#0A80CC", "#0D378A", "#2F2F2F"]
          },
          "legend": {
            "title": null,
            "orient": "none",
            "legendX": 928,
            "legendY": 141,
            "padding": 0,
            "symbolType": "stroke",
            "symbolStrokeWidth": 2,
            "symbolSize": 289,
            "symbolOpacity": 1,
            "labelFontSize": 13,
            "labelColor": "#000000",
            "labelOffset": 2,
            "rowPadding": 2.6,
            "encode": {"symbols": {"update": {"opacity": {"value": 1}, "strokeOpacity": {"value": 1}, "fillOpacity": {"value": 0}}}}
          }
        }
      }
    }
  ]
}
